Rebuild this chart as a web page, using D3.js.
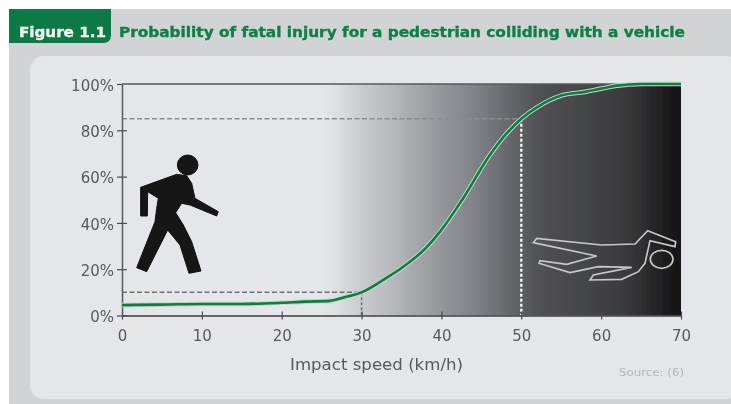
<!DOCTYPE html>
<html>
<head>
<meta charset="utf-8">
<script src="https://cdn.jsdelivr.net/npm/d3@7"></script>
<style>
  html, body { margin: 0; padding: 0; background: #fff; overflow: hidden; }
  text { font-family: "DejaVu Sans", "Liberation Sans", sans-serif; }
</style>
</head>
<body>
<div id="chart"></div>
<script>
// Curve
const speeds = [0, 5, 10, 15, 20, 23, 26, 28, 30, 33, 35, 38, 40, 42.6, 46, 48, 50, 52, 55, 58, 60, 62, 65, 70];
const fatality = [4.5, 4.7, 5, 5, 5.5, 6, 6.3, 8, 10, 16, 20.5, 29, 37, 50, 69, 78, 85, 90, 95, 96.6, 98, 99.3, 100, 100];

const xTicks = [0, 10, 20, 30, 40, 50, 60, 70];
const yTicks = [0, 20, 40, 60, 80, 100];

// Reference levels, dashed
const refSpeeds = [30, 50];
const refFatality = [10, 85];

// Background shading by speed
const shadeSpeeds = [0, 25, 27, 30, 33, 36, 40, 44, 48, 52, 58, 63, 66, 68, 70];
const shadeColors = ["#e4e6e9", "#e4e6e9", "#dcdee0", "#c9cbcd", "#bcbdc0", "#aaabae", "#94969a", "#808387", "#696b6e", "#515255", "#444547", "#3a3b3d", "#2a2a2b", "#1e1d1e", "#151314"];

const figureLabel = "Figure 1.1";
const titleText = "Probability of fatal injury for a pedestrian colliding with a vehicle";
const xLabel = "Impact speed (km/h)";
const sourceText = "Source: (6)";

const width = 731;
const height = 404;

const svg = d3.select("#chart")
    .append("svg")
    .attr("width", width)
    .attr("height", height)
    .style("display", "block");

const defs = svg.append("defs");

// the source is a soft scan, so everything gets a slight blur
defs.append("filter")
    .attr("id", "soft")
    .attr("filterUnits", "userSpaceOnUse")
    .attr("x", 0).attr("y", 0)
    .attr("width", width).attr("height", height)
    .append("feGaussianBlur")
    .attr("stdDeviation", 0.5);

const root = svg.append("g").attr("filter", "url(#soft)");

// Panels
root.append("rect")
    .attr("x", 9).attr("y", 9)
    .attr("width", width - 9).attr("height", height - 9)
    .attr("fill", "#d1d3d5");

root.append("rect")
    .attr("x", 30).attr("y", 56)
    .attr("width", 710).attr("height", 343)
    .attr("rx", 14)
    .attr("fill", "#e4e6e9");

// Header tab
root.append("path")
    .attr("d", "M9,9H111V35Q111,43 103,43H9Z")
    .attr("fill", "#0c7a45");

root.append("text")
    .attr("x", 19).attr("y", 37)
    .attr("font-size", 14)
    .attr("font-weight", "bold")
    .attr("fill", "#f2f5f2")
    .attr("stroke", "#f2f5f2")
    .attr("stroke-width", 0.35)
    .attr("textLength", 87)
    .attr("lengthAdjust", "spacingAndGlyphs")
    .text(figureLabel);

root.append("text")
    .attr("x", 119).attr("y", 37)
    .attr("font-size", 14)
    .attr("font-weight", "bold")
    .attr("fill", "#0e7f47")
    .attr("stroke", "#0e7f47")
    .attr("stroke-width", 0.35)
    .attr("textLength", 566)
    .attr("lengthAdjust", "spacingAndGlyphs")
    .text(titleText);

// Scales
const x = d3.scaleLinear().domain([0, 70]).range([122, 681]);
const y = d3.scaleLinear().domain([0, 100]).range([315.5, 84]);

// Shaded plot area
const shade = defs.append("linearGradient")
    .attr("id", "shade")
    .attr("x1", "0%").attr("x2", "100%")
    .attr("y1", "0%").attr("y2", "0%");

shade.selectAll("stop")
    .data(shadeSpeeds)
    .enter()
    .append("stop")
    .attr("offset", d => (d / 70 * 100) + "%")
    .attr("stop-color", (d, i) => shadeColors[i]);

root.append("rect")
    .attr("x", x(0)).attr("y", y(100))
    .attr("width", x(70) - x(0)).attr("height", y(0) - y(100))
    .attr("fill", "url(#shade)");

// Dashed reference lines
const dashes = root.append("g").attr("fill", "none");

dashes.append("line")
    .attr("x1", x(0)).attr("x2", x(refSpeeds[0]))
    .attr("y1", y(refFatality[0])).attr("y2", y(refFatality[0]))
    .attr("stroke", "#6f7174")
    .attr("stroke-width", 1.5)
    .attr("stroke-dasharray", "5 2.5");

dashes.append("line")
    .attr("x1", x(refSpeeds[0])).attr("x2", x(refSpeeds[0]))
    .attr("y1", y(refFatality[0])).attr("y2", y(0))
    .attr("stroke", "#6f7174")
    .attr("stroke-width", 1.5)
    .attr("stroke-dasharray", "3 2");

dashes.append("line")
    .attr("x1", x(0)).attr("x2", x(refSpeeds[1]))
    .attr("y1", y(refFatality[1])).attr("y2", y(refFatality[1]))
    .attr("stroke", "#8b8d90")
    .attr("stroke-width", 1.5)
    .attr("stroke-dasharray", "5 2.5");

dashes.append("line")
    .attr("x1", x(refSpeeds[1])).attr("x2", x(refSpeeds[1]))
    .attr("y1", y(refFatality[1])).attr("y2", y(0))
    .attr("stroke", "#ffffff")
    .attr("stroke-width", 2.2)
    .attr("stroke-dasharray", "3 2");

// Axes
const xAxis = root.append("g")
    .attr("transform", `translate(0,${y(0)})`)
    .call(d3.axisBottom(x).tickValues(xTicks).tickSize(4).tickSizeOuter(0).tickPadding(11));

const yAxis = root.append("g")
    .attr("transform", `translate(${x(0)},0)`)
    .call(d3.axisLeft(y).tickValues(yTicks).tickFormat(d => d + "%").tickSize(5).tickSizeOuter(0).tickPadding(3));

xAxis.selectAll("line").attr("y1", -4).attr("stroke", "#4a4b4d").attr("stroke-width", 1.2);
yAxis.selectAll("line").attr("x2", d => d === 100 ? 0 : 5).attr("x1", -5).attr("stroke", "#4a4b4d").attr("stroke-width", 1.2);
xAxis.select(".domain").attr("stroke", "#3c3d3f").attr("stroke-width", 1.5);
yAxis.select(".domain").attr("stroke", "#58595b").attr("stroke-width", 1.5);

xAxis.selectAll("text")
    .attr("font-size", 15)
    .attr("fill", "#58595b")
    .style("font-family", '"DejaVu Sans", sans-serif');

yAxis.selectAll("text")
    .attr("font-size", 15)
    .attr("fill", "#58595b")
    .attr("y", 1.5)
    .style("font-family", '"DejaVu Sans", sans-serif');

// top edge of the plot
root.append("line")
    .attr("x1", x(0)).attr("x2", x(70))
    .attr("y1", y(100)).attr("y2", y(100))
    .attr("stroke", "#58595b")
    .attr("stroke-width", 1.3);

// Curve, light casing under the green
const line = d3.line()
    .x((d, i) => x(speeds[i]))
    .y(d => y(d))
    .curve(d3.curveMonotoneX);

root.append("path")
    .attr("d", line(fatality))
    .attr("fill", "none")
    .attr("stroke", "#c3d6c8")
    .attr("stroke-width", 4.6);

root.append("path")
    .attr("d", line(fatality))
    .attr("fill", "none")
    .attr("stroke", "#0a7d40")
    .attr("stroke-width", 2.6);

// Walking figure
const walker = root.append("g")
    .attr("transform", "translate(125,145) scale(0.3333)")
    .attr("fill", "#141213")
    .attr("stroke", "#141213")
    .attr("stroke-width", 3);

walker.append("ellipse")
    .attr("cx", 188).attr("cy", 60)
    .attr("rx", 31).attr("ry", 30);

walker.append("path")
    .attr("d", "M47,127L155,88L185,92L200,115L210,160L280,200L275,213L195,180L170,175L152,203L175,240L200,290L228,378L192,385L165,300L128,255L65,380L35,368L90,230L95,190L100,160L68,140L67,213L47,213Z");

// Body outline on the dark side
const outline = root.append("g")
    .attr("transform", "translate(525,220) scale(0.3333)")
    .attr("fill", "none")
    .attr("stroke", "#c6c7c8")
    .attr("stroke-width", 5);

outline.append("ellipse")
    .attr("cx", 410).attr("cy", 118)
    .attr("rx", 34).attr("ry", 27);

outline.append("path")
    .attr("d", "M25,68L35,55L230,75L330,72L368,32L452,65L450,80L375,62L360,130L340,155L290,178L195,180L205,165L320,142L220,140L135,158L42,130L45,122L125,133L215,108Z");

// Labels
root.append("text")
    .attr("x", 290).attr("y", 370)
    .attr("font-size", 15)
    .attr("fill", "#58595b")
    .attr("textLength", 173)
    .attr("lengthAdjust", "spacingAndGlyphs")
    .text(xLabel);

root.append("text")
    .attr("x", 619).attr("y", 376)
    .attr("font-size", 10)
    .attr("fill", "#b4b6b8")
    .attr("textLength", 65)
    .attr("lengthAdjust", "spacingAndGlyphs")
    .text(sourceText);
</script>
</body>
</html>
